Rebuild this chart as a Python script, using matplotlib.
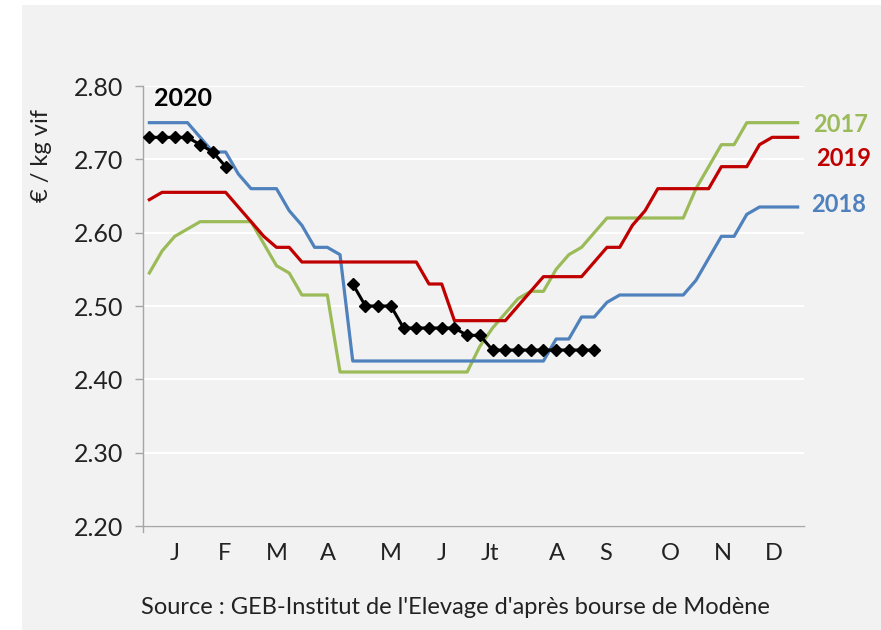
import numpy as np
import matplotlib.pyplot as plt
from matplotlib.patches import Rectangle

nan = np.nan

# weekly prices, 52 weeks
p2017 = [2.545, 2.575, 2.595, 2.605, 2.615, 2.615, 2.615, 2.615, 2.615, 2.585,
         2.555, 2.545, 2.515, 2.515, 2.515, 2.41, 2.41, 2.41, 2.41, 2.41,
         2.41, 2.41, 2.41, 2.41, 2.41, 2.41, 2.445, 2.47, 2.49, 2.51,
         2.52, 2.52, 2.55, 2.57, 2.58, 2.60, 2.62, 2.62, 2.62, 2.62,
         2.62, 2.62, 2.62, 2.66, 2.69, 2.72, 2.72, 2.75, 2.75, 2.75,
         2.75, 2.75]
p2018 = [2.75, 2.75, 2.75, 2.75, 2.73, 2.71, 2.71, 2.68, 2.66, 2.66,
         2.66, 2.63, 2.61, 2.58, 2.58, 2.57, 2.425, 2.425, 2.425, 2.425,
         2.425, 2.425, 2.425, 2.425, 2.425, 2.425, 2.425, 2.425, 2.425, 2.425,
         2.425, 2.425, 2.455, 2.455, 2.485, 2.485, 2.505, 2.515, 2.515, 2.515,
         2.515, 2.515, 2.515, 2.535, 2.565, 2.595, 2.595, 2.625, 2.635, 2.635,
         2.635, 2.635]
p2019 = [2.645, 2.655, 2.655, 2.655, 2.655, 2.655, 2.655, 2.635, 2.615, 2.595,
         2.58, 2.58, 2.56, 2.56, 2.56, 2.56, 2.56, 2.56, 2.56, 2.56,
         2.56, 2.56, 2.53, 2.53, 2.48, 2.48, 2.48, 2.48, 2.48, 2.50,
         2.52, 2.54, 2.54, 2.54, 2.54, 2.56, 2.58, 2.58, 2.61, 2.63,
         2.66, 2.66, 2.66, 2.66, 2.66, 2.69, 2.69, 2.69, 2.72, 2.73,
         2.73, 2.73]
p2020 = [2.73, 2.73, 2.73, 2.73, 2.72, 2.71, 2.69, nan, nan, nan,
         nan, nan, nan, nan, nan, nan, 2.53, 2.50, 2.50, 2.50,
         2.47, 2.47, 2.47, 2.47, 2.47, 2.46, 2.46, 2.44, 2.44, 2.44,
         2.44, 2.44, 2.44, 2.44, 2.44, 2.44] + [nan] * 16

months = ['J', 'F', 'M', 'A', 'M', 'J', 'Jt', 'A', 'S', 'O', 'N', 'D']
month_pos = [2.5, 6.4, 10.55, 14.55, 19.5, 23.5, 27.3, 32.6, 36.4, 41.5, 45.6, 49.6]

bg = '#f2f2f2'
c17, c18, c19 = '#9bbb59', '#4f81bd', '#c00000'
plt.rcParams['font.family'] = ['Lato', 'DejaVu Sans']

fig = plt.figure(figsize=(8.81, 6.3), dpi=100, facecolor='white')
fig.patches.append(Rectangle((22 / 881, 0), 1, 1 - 5 / 630, transform=fig.transFigure,
                             facecolor=bg, edgecolor='none', zorder=-10))
ax = fig.add_axes([143 / 881, 1 - 526 / 630, 661 / 881, 440 / 630])
ax.set_facecolor(bg)

x = np.arange(52) + 0.5
ax.plot(x, p2017, color=c17, lw=2.3, zorder=3)
ax.plot(x, p2018, color=c18, lw=2.3, zorder=3)
ax.plot(x, p2019, color=c19, lw=2.3, zorder=3)
ax.plot(x, p2020, color='black', lw=2.2, marker='D', markersize=6.5, zorder=4)

ax.set_xlim(0, 52)
ax.set_ylim(2.2, 2.8)
ax.set_yticks(np.arange(2.2, 2.81, 0.1))
ax.set_yticklabels(['%.2f' % v for v in np.arange(2.2, 2.81, 0.1)])
ax.grid(axis='y', color='white', lw=1.5)
ax.set_axisbelow(True)
ax.set_xticks(month_pos)
ax.set_xticklabels(months)
ax.tick_params(axis='x', length=0, pad=12, labelsize=17, labelcolor='#222222')
ax.tick_params(axis='y', length=6, width=1, color='#a6a6a6', pad=8, labelsize=18,
               labelcolor='#222222')
for s in ['top', 'right']:
    ax.spines[s].set_visible(False)
for s in ['left', 'bottom']:
    ax.spines[s].set_color('#a6a6a6')
    ax.spines[s].set_linewidth(1)
# small tick below the origin
ax.plot([0, 0], [2.2, 2.192], color='#a6a6a6', lw=1, clip_on=False)

fig.text(42 / 881, 1 - 156 / 630, '€ / kg vif', rotation=90, ha='center', va='center',
         fontsize=17, color='#222222')
fig.text(813 / 881, 1 - 124 / 630, '2017', color=c17, fontsize=17, fontweight='bold',
         va='center')
fig.text(816 / 881, 1 - 158 / 630, '2019', color=c19, fontsize=17, fontweight='bold',
         va='center')
fig.text(811 / 881, 1 - 205 / 630, '2018', color=c18, fontsize=17, fontweight='bold',
         va='center')
fig.text(154 / 881, 1 - 99 / 630, '2020', color='black', fontsize=18, fontweight='bold',
         va='center')
fig.text(455 / 881, 1 - 608 / 630, "Source : GEB-Institut de l'Elevage d'après bourse de Modène",
         ha='center', va='center', fontsize=17, color='#222222')

fig.savefig('out.png', dpi=100, facecolor=fig.get_facecolor())
